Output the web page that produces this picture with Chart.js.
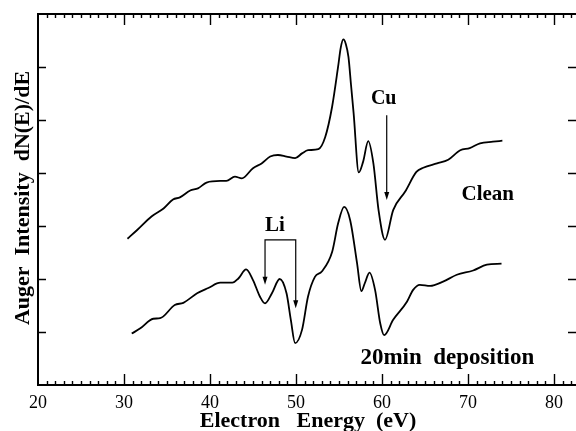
<!DOCTYPE html>
<html>
<head>
<meta charset="utf-8">
<script src="https://cdn.jsdelivr.net/npm/chart.js@4"></script>
<style>
  body { margin: 0; background: #fff; }
  canvas { display: block; }
</style>
</head>
<body>
<canvas id="auger" width="576" height="431"></canvas>
<script>
// spectra (energy in eV, signal in tick units)
const cleanEnergy = [30.4, 31.5, 33.2, 34.6, 35.7, 36.5, 37.7, 38.6, 39.6, 41.2, 41.9, 42.9, 43.7, 45.0, 46.0, 47.0, 47.9, 48.9, 49.9, 50.7, 51.4, 52.6, 53.4, 54.2, 54.9, 55.2, 55.5, 55.8, 56.1, 56.4, 56.7, 57.3, 57.8, 58.4, 59.0, 59.6, 60.35, 61.3, 62.7, 64.0, 64.8, 66.4, 67.7, 69.1, 70.2, 71.4, 72.9, 74.0]
const cleanSignal = [2.76, 2.92, 3.18, 3.33, 3.50, 3.54, 3.67, 3.71, 3.82, 3.85, 3.85, 3.93, 3.90, 4.09, 4.18, 4.31, 4.34, 4.31, 4.28, 4.37, 4.43, 4.45, 4.68, 5.25, 6.01, 6.36, 6.52, 6.43, 6.19, 5.66, 5.13, 4.01, 4.21, 4.60, 4.18, 3.30, 2.74, 3.30, 3.65, 4.02, 4.10, 4.18, 4.25, 4.43, 4.47, 4.56, 4.59, 4.61]

const depEnergy = [30.9, 31.9, 33.4, 34.2, 35.9, 36.9, 38.5, 39.8, 41.2, 42.6, 43.3, 44.2, 45.0, 45.8, 46.4, 47.2, 48.1, 48.9, 49.4, 49.9, 50.7, 51.4, 52.2, 53.0, 54.2, 54.9, 55.6, 56.3, 57.1, 57.6, 58.0, 58.55, 59.2, 59.8, 60.25, 61.3, 62.9, 63.6, 64.4, 65.6, 67.1, 68.7, 70.6, 72.2, 73.9]
const depSignal = [0.97, 1.07, 1.25, 1.26, 1.51, 1.55, 1.73, 1.83, 1.93, 1.93, 2.01, 2.18, 1.98, 1.67, 1.54, 1.73, 2.00, 1.73, 1.23, 0.79, 1.04, 1.67, 2.04, 2.14, 2.51, 3.05, 3.36, 3.11, 2.30, 1.77, 1.92, 2.12, 1.79, 1.16, 0.94, 1.23, 1.57, 1.79, 1.89, 1.87, 1.95, 2.08, 2.16, 2.27, 2.29]

const xTicks = [20, 30, 40, 50, 60, 70, 80]
const yTicks = [1, 2, 3, 4, 5, 6]

const serif = '"Liberation Serif", "Times New Roman", serif'

// annotation positions in data units
const notes = [
  { text: 'Cu', x: 60.2, y: 5.40, size: 20 },
  { text: 'Li', x: 47.55, y: 3.00, size: 21 },
  { text: 'Clean', x: 72.3, y: 3.60, size: 21 },
  { text: '20min  deposition', x: 67.6, y: 0.51, size: 23 }
]
const cuArrow = { x: 60.55, from: 5.09, to: 3.49 }
const liBracket = { left: 46.4, right: 49.97, top: 2.74, leftTip: 1.89, rightTip: 1.45 }

function arrowHead(ctx, px, py) {
  ctx.beginPath()
  ctx.moveTo(px, py)
  ctx.lineTo(px - 2.5, py - 8)
  ctx.lineTo(px + 2.5, py - 8)
  ctx.closePath()
  ctx.fill()
}

const frame = {
  id: 'frame',
  afterDraw(chart) {
    const { ctx, chartArea: a, scales: { x, y } } = chart
    ctx.save()
    ctx.strokeStyle = '#000'
    ctx.fillStyle = '#000'

    // box (no right edge, it sits outside the picture)
    ctx.lineWidth = 2
    ctx.beginPath()
    ctx.moveTo(a.right, a.top)
    ctx.lineTo(a.left, a.top)
    ctx.lineTo(a.left, a.bottom)
    ctx.lineTo(a.right, a.bottom)
    ctx.stroke()

    // inward ticks
    ctx.lineWidth = 1.4
    ctx.beginPath()
    for (let v = 21; v <= 82; v++) {
      const px = Math.round(x.getPixelForValue(v)) + 0.5
      const len = v % 10 === 0 ? 11 : 4
      ctx.moveTo(px, a.bottom); ctx.lineTo(px, a.bottom - len)
      ctx.moveTo(px, a.top); ctx.lineTo(px, a.top + len)
    }
    yTicks.forEach(v => {
      const py = Math.round(y.getPixelForValue(v)) + 0.5
      ctx.moveTo(a.left, py); ctx.lineTo(a.left + 8, py)
      ctx.moveTo(a.right, py); ctx.lineTo(a.right - 8, py)
    })
    ctx.stroke()

    // Cu arrow
    ctx.lineWidth = 1.2
    const cx = x.getPixelForValue(cuArrow.x)
    const cTip = y.getPixelForValue(cuArrow.to)
    ctx.beginPath()
    ctx.moveTo(cx, y.getPixelForValue(cuArrow.from))
    ctx.lineTo(cx, cTip - 6)
    ctx.stroke()
    arrowHead(ctx, cx, cTip)

    // Li bracket
    const lx = x.getPixelForValue(liBracket.left)
    const rx = x.getPixelForValue(liBracket.right)
    const ty = y.getPixelForValue(liBracket.top)
    const lTip = y.getPixelForValue(liBracket.leftTip)
    const rTip = y.getPixelForValue(liBracket.rightTip)
    ctx.beginPath()
    ctx.moveTo(lx, lTip - 6)
    ctx.lineTo(lx, ty)
    ctx.lineTo(rx, ty)
    ctx.lineTo(rx, rTip - 6)
    ctx.stroke()
    arrowHead(ctx, lx, lTip)
    arrowHead(ctx, rx, rTip)

    // labels
    ctx.textAlign = 'center'
    ctx.textBaseline = 'middle'
    notes.forEach(n => {
      ctx.font = `bold ${n.size}px ${serif}`
      ctx.fillText(n.text, x.getPixelForValue(n.x), y.getPixelForValue(n.y))
    })

    // axis titles
    ctx.font = `bold 22px ${serif}`
    ctx.textBaseline = 'alphabetic'
    ctx.fillText('Electron   Energy  (eV)', 308, 427)
    ctx.translate(29, 198)
    ctx.rotate(-Math.PI / 2)
    ctx.font = `bold 22px ${serif}`
    ctx.fillText('Auger  Intensity  dN(E)/dE', 0, 0)
    ctx.restore()
  }
}

const toPoints = (xs, ys) => xs.map((v, i) => ({ x: v, y: ys[i] }))

new Chart(document.getElementById('auger'), {
  type: 'line',
  data: {
    datasets: [
      {
        label: 'Clean',
        data: toPoints(cleanEnergy, cleanSignal),
        borderColor: '#000',
        borderWidth: 1.8,
        pointRadius: 0,
        cubicInterpolationMode: 'monotone'
      },
      {
        label: '20min deposition',
        data: toPoints(depEnergy, depSignal),
        borderColor: '#000',
        borderWidth: 1.8,
        pointRadius: 0,
        cubicInterpolationMode: 'monotone'
      }
    ]
  },
  options: {
    responsive: false,
    animation: false,
    devicePixelRatio: 1,
    layout: { padding: { left: 38, top: 14, right: 0, bottom: 0 } },
    plugins: {
      legend: { display: false },
      tooltip: { enabled: false }
    },
    scales: {
      x: {
        type: 'linear',
        min: 20,
        max: 82.56,
        grid: { display: false, drawTicks: false },
        border: { display: false },
        afterFit: s => { s.height = 46 },
        afterBuildTicks: s => { s.ticks = xTicks.map(v => ({ value: v })) },
        ticks: {
          autoSkip: false,
          maxRotation: 0,
          padding: 7,
          color: '#000',
          font: { family: serif, size: 18 }
        }
      },
      y: {
        display: false,
        min: 0,
        max: 7
      }
    }
  },
  plugins: [frame]
})
</script>
</body>
</html>
